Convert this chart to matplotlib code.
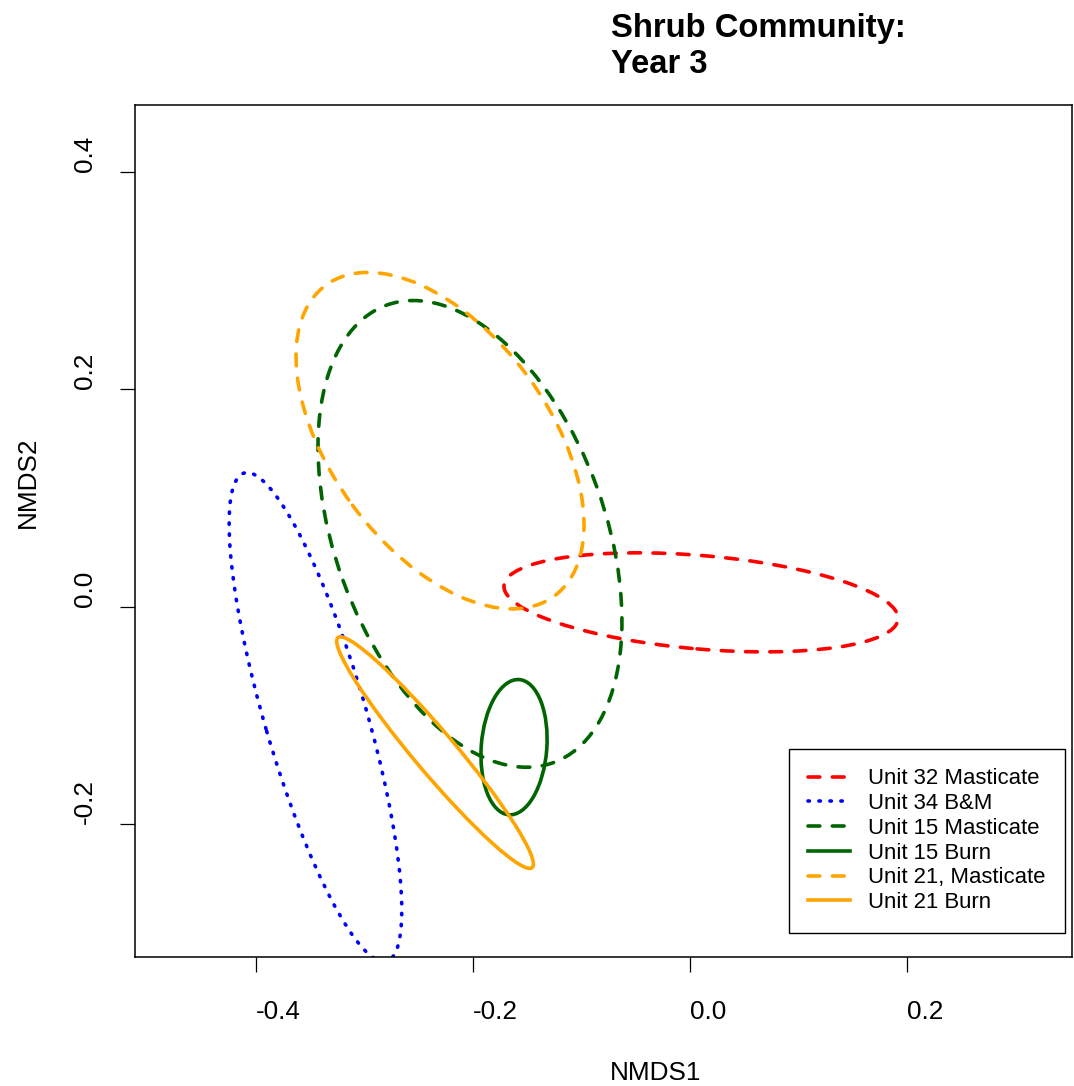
import matplotlib
matplotlib.use("Agg")
from matplotlib import pyplot as plt
from matplotlib.patches import Ellipse
from matplotlib.lines import Line2D

plt.rcParams['font.family'] = ['Liberation Sans', 'DejaVu Sans']
plt.rcParams['lines.scale_dashes'] = False

# group ellipses in NMDS space: centre, full axis lengths, rotation (deg)
groups = ["Unit 32 Masticate", "Unit 34 B&M", "Unit 15 Masticate",
          "Unit 15 Burn", "Unit 21, Masticate", "Unit 21 Burn"]
centre_x = [0.0101, -0.3452, -0.2028, -0.1622, -0.2304, -0.2350]
centre_y = [0.0040, -0.1016, 0.0670, -0.1293, 0.1528, -0.1343]
axis_major = [0.3644, 0.4680, 0.4482, 0.1248, 0.3552, 0.2772]
axis_minor = [0.0860, 0.0936, 0.2492, 0.0604, 0.2004, 0.0380]
rotation = [-4.9, -73.7, -69.9, 85.6, -53.6, -49.8]

colours = ['#FF0000', '#0000FF', '#006400', '#006400', '#FFA500', '#FFA500']
dashed = (0, (8.5, 9.0))
dotted = (0, (1.0, 6.9))
styles = [dashed, dotted, dashed, '-', dashed, '-']

xticks = [-0.4, -0.2, 0.0, 0.2]
yticks = [-0.2, 0.0, 0.2, 0.4]

W, H = 1074, 1086
fig = plt.figure(figsize=(W / 100, H / 100), dpi=100)
ax = fig.add_axes([135 / W, 1 - 957 / H, 937 / W, 852 / H])

lw = 2.6
for i in range(len(groups)):
    e = Ellipse((centre_x[i], centre_y[i]), axis_major[i], axis_minor[i],
                angle=rotation[i], fill=False, edgecolor=colours[i],
                linestyle=styles[i], linewidth=lw, capstyle='round')
    ax.add_patch(e)

ax.set_xlim(-0.5115, 0.352)
ax.set_ylim(-0.3224, 0.4617)

for s in ['top', 'right', 'bottom', 'left']:
    ax.spines[s].set_linewidth(1.1)
ax.tick_params(direction='out', length=10.8, width=0.9, labelsize=18.8)
ax.tick_params(axis='x', pad=20)
ax.tick_params(axis='y', pad=16.5)
ax.set_xticks(xticks)
ax.set_xticklabels([f"{v:.1f}" for v in xticks], ha='left')
ax.set_yticks(yticks)
ax.set_yticklabels([f"{v:.1f}" for v in yticks], rotation=90, va='bottom')

fig.text(610 / W, 1 - 1080 / H, "NMDS1", fontsize=18.8, ha='left', va='baseline')
fig.text(27.5 / W, 1 - 528 / H, "NMDS2", fontsize=18.8, rotation=90,
         ha='center', va='bottom')
fig.text(611 / W, 1 - 37 / H, "Shrub Community:", fontsize=23.6,
         fontweight='bold', ha='left', va='baseline')
fig.text(611 / W, 1 - 73 / H, "Year 3", fontsize=23.6,
         fontweight='bold', ha='left', va='baseline')

handles = [Line2D([], [], color=colours[i], linestyle=styles[i], linewidth=lw,
                  dash_capstyle='round') for i in range(len(groups))]
leg = ax.legend(handles, groups, loc='upper left',
                bbox_to_anchor=(789 / W, 1 - 749 / H),
                bbox_transform=fig.transFigure, borderaxespad=0,
                fontsize=15.9, handlelength=1.9, handletextpad=0.82,
                labelspacing=0.17, borderpad=0.88, fancybox=False,
                framealpha=1, edgecolor='black')
leg.get_frame().set_linewidth(1.0)

fig.savefig("out.png", dpi=100)
